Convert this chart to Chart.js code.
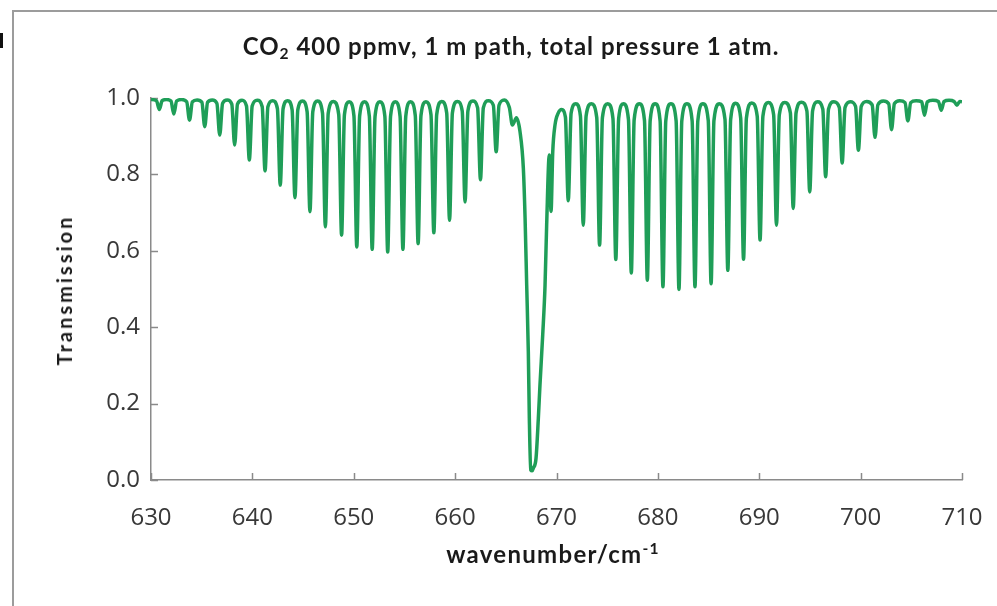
<!DOCTYPE html>
<html>
<head>
<meta charset="utf-8">
<script src="https://cdn.jsdelivr.net/npm/chart.js@4"></script>
<style>
  html, body { margin: 0; padding: 0; background: #fff; }
  #wrap { position: relative; width: 997px; height: 606px; overflow: hidden; }
  #frame { position: absolute; left: 12px; top: 10px; width: 1000px; height: 620px;
           border-top: 2px solid #9c9c9c; border-left: 2px solid #9c9c9c; }
  #mark { position: absolute; left: 0; top: 33px; width: 3px; height: 15px; background: #111; }
  canvas { position: absolute; left: 0; top: 0; }
  .txt { position: absolute; font-family: Lato, "Noto Sans", sans-serif; font-weight: bold; color: #1a1a1a; white-space: nowrap; }
  #title { left: 511px; top: 31px; font-size: 24px; letter-spacing: 1px; transform: translateX(-50%); }
  #ytitle { left: 64px; top: 290px; font-size: 20px; letter-spacing: 3px; transform: translate(-50%, -50%) rotate(-90deg); }
  #xtitle { left: 553px; top: 539px; font-size: 24px; letter-spacing: 1.3px; transform: translateX(-50%); }
  sub { font-size: 65%; vertical-align: -4px; }
  sup { font-size: 65%; vertical-align: 9px; }
</style>
</head>
<body>
<div id="wrap">
  <div id="frame"></div>
  <div id="mark"></div>
  <canvas id="grafico" width="997" height="606"></canvas>
  <div class="txt" id="title">CO<sub>2</sub> 400 ppmv, 1 m path, total pressure 1 atm.</div>
  <div class="txt" id="ytitle">Transmission</div>
  <div class="txt" id="xtitle">wavenumber/cm<sup>-1</sup></div>
</div>
<script>
// P branch (left of the band centre)
const pBranchWavenumber = [
  630.00, 630.54, 630.82, 631.10, 631.52, 631.97, 632.25, 632.53, 633.02,
  633.52, 633.80, 634.08, 634.55, 635.02, 635.30, 635.58, 636.04,
  636.50, 636.78, 637.06, 637.52,
  637.97, 638.25, 638.53, 638.98,
  639.42, 639.70, 639.98, 640.48,
  640.97, 641.25, 641.53, 642.00,
  642.47, 642.75, 643.03, 643.48,
  643.92, 644.20, 644.48, 644.94,
  645.40, 645.68, 645.96, 646.44,
  646.92, 647.20, 647.48, 648.00,
  648.52, 648.80, 649.08, 649.55,
  650.02, 650.30, 650.58, 651.06,
  651.54, 651.82, 652.10, 652.58,
  653.07, 653.35, 653.63, 654.10,
  654.57, 654.85, 655.13, 655.60,
  656.07, 656.35, 656.63, 657.12,
  657.62, 657.90, 658.18, 658.68,
  659.17, 659.45, 659.73, 660.22,
  660.70, 660.98, 661.26, 661.74,
  662.22, 662.50, 662.78, 663.28,
  663.77, 664.05, 664.33, 664.85,
  665.35, 665.65
];
const pBranchTransmission = [
  0.996, 0.993, 0.970, 0.993, 0.996, 0.992, 0.958, 0.992, 0.996,
  0.990, 0.942, 0.990, 0.995, 0.989, 0.925, 0.989, 0.995,
  0.986, 0.903, 0.986, 0.995,
  0.984, 0.877, 0.984, 0.994,
  0.979, 0.838, 0.979, 0.994,
  0.977, 0.809, 0.977, 0.993,
  0.972, 0.772, 0.972, 0.993,
  0.969, 0.739, 0.969, 0.992,
  0.964, 0.702, 0.964, 0.992,
  0.960, 0.663, 0.960, 0.991,
  0.956, 0.641, 0.956, 0.990,
  0.953, 0.610, 0.953, 0.990,
  0.952, 0.604, 0.952, 0.990,
  0.952, 0.597, 0.952, 0.990,
  0.952, 0.604, 0.952, 0.990,
  0.954, 0.619, 0.954, 0.990,
  0.956, 0.647, 0.956, 0.991,
  0.961, 0.680, 0.961, 0.991,
  0.966, 0.728, 0.966, 0.992,
  0.974, 0.786, 0.974, 0.993,
  0.981, 0.859, 0.981, 0.995,
  0.975, 0.929
];

// Q branch (band centre)
const qBranchWavenumber = [
  666.05, 666.40, 666.73, 666.90, 667.06, 667.22, 667.32, 667.46, 667.60, 667.71, 667.98,
  668.21, 668.37, 668.64, 668.87, 669.03, 669.29, 669.46, 669.63, 669.85, 670.18, 670.50
];
const qBranchTransmission = [
  0.948, 0.912, 0.816, 0.686, 0.510, 0.336, 0.162, 0.026, 0.024, 0.031, 0.057,
  0.162, 0.249, 0.380, 0.510, 0.668, 0.851, 0.703, 0.859, 0.929, 0.961, 0.970
];

// R branch (right of the band centre)
const rBranchWavenumber = [
  670.88, 671.16, 671.44, 671.90,
  672.36, 672.64, 672.92, 673.45,
  673.97, 674.25, 674.53, 675.05,
  675.57, 675.85, 676.13, 676.60,
  677.10, 677.38, 677.66, 678.17,
  678.68, 678.96, 679.24, 679.73,
  680.22, 680.50, 680.78, 681.29,
  681.80, 682.08, 682.36, 682.87,
  683.38, 683.66, 683.94, 684.45,
  684.97, 685.25, 685.53, 686.07,
  686.62, 686.90, 687.18, 687.67,
  688.17, 688.45, 688.73, 689.26,
  689.80, 690.08, 690.36, 690.89,
  691.42, 691.70, 691.98, 692.52,
  693.07, 693.35, 693.63, 694.16,
  694.70, 694.98, 695.26, 695.76,
  696.27, 696.55, 696.83, 697.36,
  697.90, 698.18, 698.46, 698.98,
  699.50, 699.78, 700.06, 700.60,
  701.14, 701.42, 701.70, 702.23,
  702.77, 703.05, 703.33, 703.85,
  704.38, 704.66, 704.94, 705.48,
  706.02, 706.30, 706.58, 707.12,
  707.67, 707.95, 708.23, 708.72,
  709.22, 709.50, 709.78, 710.00
];
const rBranchTransmission = [
  0.950, 0.731, 0.960, 0.985,
  0.953, 0.667, 0.953, 0.985,
  0.949, 0.615, 0.949, 0.985,
  0.946, 0.577, 0.946, 0.985,
  0.943, 0.542, 0.943, 0.985,
  0.941, 0.523, 0.941, 0.985,
  0.940, 0.506, 0.940, 0.985,
  0.940, 0.499, 0.940, 0.985,
  0.940, 0.506, 0.940, 0.985,
  0.941, 0.514, 0.941, 0.985,
  0.944, 0.549, 0.944, 0.986,
  0.947, 0.578, 0.947, 0.987,
  0.952, 0.628, 0.952, 0.988,
  0.956, 0.667, 0.956, 0.988,
  0.961, 0.711, 0.961, 0.989,
  0.966, 0.754, 0.966, 0.990,
  0.971, 0.794, 0.971, 0.990,
  0.975, 0.830, 0.975, 0.990,
  0.978, 0.863, 0.978, 0.991,
  0.982, 0.897, 0.982, 0.992,
  0.985, 0.917, 0.985, 0.993,
  0.988, 0.940, 0.988, 0.993,
  0.990, 0.955, 0.990, 0.994,
  0.991, 0.968, 0.991, 0.994,
  0.991, 0.981, 0.991, 0.990
];

// Axis ticks
const xTicks = [630, 640, 650, 660, 670, 680, 690, 700, 710];
const yTicks = [0.0, 0.2, 0.4, 0.6, 0.8, 1.0];

const wavenumber = [...pBranchWavenumber, ...qBranchWavenumber, ...rBranchWavenumber];
const transmission = [...pBranchTransmission, ...qBranchTransmission, ...rBranchTransmission];
const puntos = wavenumber.map((x, i) => ({ x, y: transmission[i] }));

const ejeColor = '#8a8a8a';

// Excel-style tick marks pointing into the plot area
const marcasInternas = {
  id: 'marcasInternas',
  beforeDatasetsDraw(chart) {
    const { ctx, chartArea, scales } = chart;
    ctx.save();
    ctx.strokeStyle = ejeColor;
    ctx.lineWidth = 1.5;
    ctx.beginPath();
    xTicks.forEach(v => {
      const px = Math.round(scales.x.getPixelForValue(v)) + 0.5;
      ctx.moveTo(px, chartArea.bottom);
      ctx.lineTo(px, chartArea.bottom - 7);
    });
    yTicks.forEach(v => {
      const py = Math.round(scales.y.getPixelForValue(v)) + 0.5;
      ctx.moveTo(chartArea.left, py);
      ctx.lineTo(chartArea.left + 7, py);
    });
    ctx.stroke();
    ctx.restore();
  }
};

const ctx = document.getElementById('grafico').getContext('2d');
new Chart(ctx, {
  type: 'line',
  data: {
    datasets: [{
      label: 'Transmission',
      data: puntos,
      borderColor: '#1f9e58',
      borderWidth: 3.5,
      pointRadius: 0,
      fill: false,
      cubicInterpolationMode: 'monotone'
    }]
  },
  options: {
    responsive: false,
    animation: false,
    devicePixelRatio: 1,
    layout: { padding: { left: 0, top: 98, right: 35, bottom: 0 } },
    plugins: { legend: { display: false }, tooltip: { enabled: false } },
    scales: {
      x: {
        type: 'linear',
        min: 630,
        max: 710,
        afterBuildTicks: s => { s.ticks = xTicks.map(v => ({ value: v })); },
        afterFit: s => { s.height = 126; s.paddingRight = 0; s.paddingLeft = 0; },
        grid: { display: false, drawTicks: false },
        border: { display: true, color: ejeColor, width: 1.5 },
        ticks: {
          padding: 24,
          color: '#383838',
          font: { family: 'Open Sans', size: 24 },
          maxRotation: 0
        }
      },
      y: {
        min: 0,
        max: 1,
        afterBuildTicks: s => { s.ticks = yTicks.map(v => ({ value: v })); },
        afterFit: s => { s.width = 151; },
        grid: { display: false, drawTicks: false },
        border: { display: true, color: ejeColor, width: 1.5 },
        ticks: {
          padding: 11,
          color: '#383838',
          font: { family: 'Open Sans', size: 24 },
          callback: v => v.toFixed(1)
        }
      }
    }
  },
  plugins: [marcasInternas]
});
</script>
</body>
</html>
